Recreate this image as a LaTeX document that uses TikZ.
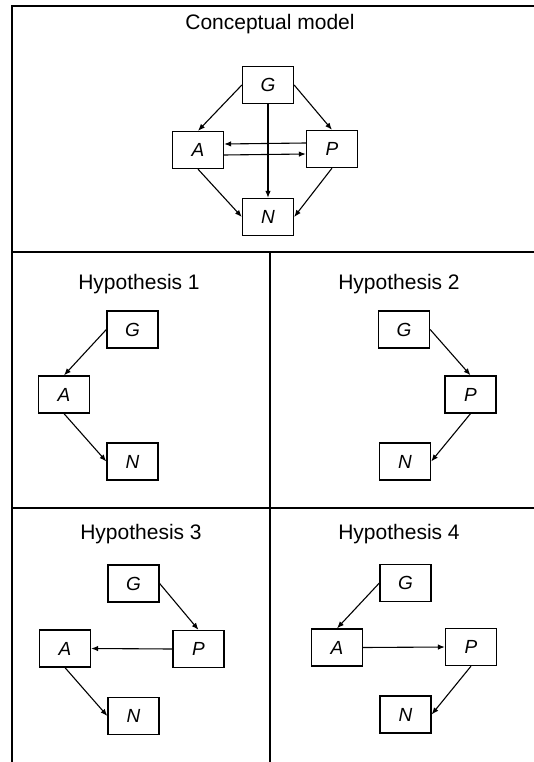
\documentclass[tikz,border=0pt]{standalone}
\usepackage{fontspec}
\setmainfont{Liberation Sans}
\usetikzlibrary{arrows.meta}
\begin{document}
\begin{tikzpicture}[x=1pt,y=-1pt,
  box/.style={draw,line width=1.3pt,minimum width=51pt,minimum height=37pt,inner sep=0pt,font=\fontsize{19}{21}\selectfont\itshape},
  ttl/.style={font=\fontsize{21}{24}\selectfont,inner sep=0pt},
  arr/.style={-{Latex[length=7pt,width=5.5pt]},line width=1.1pt},
  frame/.style={line width=1.4pt}]
\useasboundingbox (0,0) rectangle (534,762);
% frame
\coordinate (tl) at (12,6);
\coordinate (tr) at (534,6);
\coordinate (bl) at (12,762);
\coordinate (m1l) at (12,252);
\coordinate (m1r) at (534,252);
\coordinate (m2l) at (12,508);
\coordinate (m2r) at (534,508);
\coordinate (vt) at (270,252);
\coordinate (vb) at (270,762);
\draw[frame] (tr) -- (tl) -- (bl);
\draw[frame] (m1l) -- (m1r);
\draw[frame] (m2l) -- (m2r);
\draw[frame] (vt) -- (vb);
% conceptual model
\node[ttl] (t0) at (270,24) {Conceptual model};
\node[box] (g0) at (268,85) {G};
\node[box] (a0) at (198,150) {A};
\node[box] (p0) at (332,149) {P};
\node[box] (n0) at (268,217) {N};
\draw[arr] (g0.west) -- (a0.north);
\draw[arr] (g0.east) -- (p0.north);
\draw[arr] (a0.south) -- (n0.west);
\draw[arr] (p0.south) -- (n0.east);
\draw[arr] (g0.south) -- (n0.north);
\draw[arr] ([yshift=6pt]p0.west) -- ([yshift=6pt]a0.east);
\draw[arr] ([yshift=-5pt]a0.east) -- ([yshift=-5pt]p0.west);
% hypothesis 1
\node[ttl] (t1) at (139,284) {Hypothesis 1};
\node[box] (g1) at (132.5,329.5) {G};
\node[box] (a1) at (64,394.5) {A};
\node[box] (n1) at (132.5,461.5) {N};
\draw[arr] (g1.west) -- (a1.north);
\draw[arr] (a1.south) -- (n1.west);
% hypothesis 2
\node[ttl] (t2) at (399,284) {Hypothesis 2};
\node[box] (g2) at (404,329.5) {G};
\node[box] (p2) at (470.5,394.5) {P};
\node[box] (n2) at (405,461.5) {N};
\draw[arr] (g2.east) -- (p2.north);
\draw[arr] (p2.south) -- (n2.east);
% hypothesis 3
\node[ttl] (t3) at (141,534) {Hypothesis 3};
\node[box] (g3) at (133.5,583.5) {G};
\node[box] (a3) at (65,648.5) {A};
\node[box] (p3) at (198.5,649) {P};
\node[box] (n3) at (133.5,716) {N};
\draw[arr] (g3.east) -- (p3.north);
\draw[arr] (p3.west) -- (a3.east);
\draw[arr] (a3.south) -- (n3.west);
% hypothesis 4
\node[ttl] (t4) at (399,534) {Hypothesis 4};
\node[box] (g4) at (405.5,583) {G};
\node[box] (a4) at (337,647.5) {A};
\node[box] (p4) at (471,647) {P};
\node[box] (n4) at (405.5,714.5) {N};
\draw[arr] (g4.west) -- (a4.north);
\draw[arr] (a4.east) -- (p4.west);
\draw[arr] (p4.south) -- (n4.east);
\end{tikzpicture}
\end{document}
